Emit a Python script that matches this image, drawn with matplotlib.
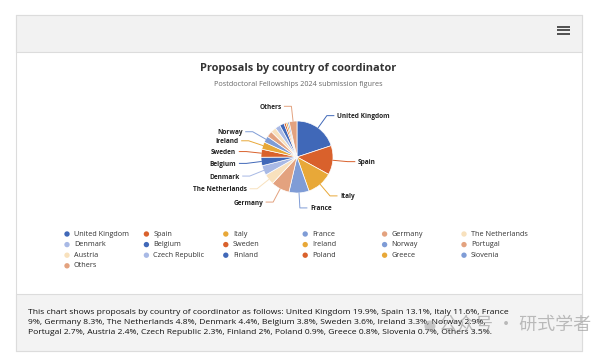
import numpy as np
import matplotlib
matplotlib.use("Agg")
from matplotlib import pyplot as plt
from matplotlib.patches import Rectangle, Circle

countries = ["United Kingdom", "Spain", "Italy", "France", "Germany", "The Netherlands",
             "Denmark", "Belgium", "Sweden", "Ireland", "Norway", "Portugal", "Austria",
             "Czech Republic", "Finland", "Poland", "Greece", "Slovenia", "Others"]
shares = [19.9, 13.1, 11.6, 9, 8.3, 4.8, 4.4, 3.8, 3.6, 3.3, 2.9, 2.7, 2.4, 2.3, 2, 0.9, 0.8, 0.7, 3.5]
share_text = ["19.9%", "13.1%", "11.6%", "9%", "8.3%", "4.8%", "4.4%", "3.8%", "3.6%", "3.3%",
              "2.9%", "2.7%", "2.4%", "2.3%", "2%", "0.9%", "0.8%", "0.7%", "3.5%"]
title = "Proposals by country of coordinator"
subtitle = "Postdoctoral Fellowships 2024 submission figures"

palette = ["#4068b8", "#d9612c", "#e8a838", "#7f9cd6", "#e3a27f", "#f8e1bd", "#a8b9e5"]
colors = [palette[i % len(palette)] for i in range(len(countries))]

plt.rcParams["font.family"] = ["Open Sans", "DejaVu Sans"]

fig = plt.figure(figsize=(6, 3.55), dpi=100)
ax = fig.add_axes([0, 0, 1, 1])

# card, header and footer
ax.add_patch(Rectangle((16, 15), 566, 336, facecolor="white", edgecolor="#dcdcdc", lw=0.8, zorder=0))
ax.add_patch(Rectangle((16, 15), 566, 37, facecolor="#f2f2f2", edgecolor="#dcdcdc", lw=0.8, zorder=1))
ax.add_patch(Rectangle((16, 294), 566, 57, facecolor="#f3f3f3", edgecolor="#dcdcdc", lw=0.8, zorder=1))
for yy in [26.5, 30, 33.5]:
    ax.plot([557, 570], [yy, yy], color="#444444", lw=1.3, solid_capstyle="butt", zorder=2)

# pie
cx, cy, r = 297, 157, 36
wedges, _ = ax.pie(shares, colors=colors, startangle=270, counterclock=True,
                   center=(cx, cy), radius=r,
                   wedgeprops=dict(edgecolor="white", linewidth=0.5))

ax.text(298, 68, title, ha="center", va="center", fontsize=7.9, fontweight="bold", color="#333333")
ax.text(298, 84, subtitle, ha="center", va="center", fontsize=5.2, color="#666666")

# data labels with connectors
start = 270.0
total = sum(shares)
for name, val, col in zip(countries, shares, colors):
    span = val / total * 360
    mid = np.deg2rad(start + span / 2)
    start += span
    if val < 2.8:
        continue
    dx, dy = np.cos(mid), np.sin(mid)
    x0, y0 = cx + r * dx, cy + r * dy
    x1, y1 = cx + (r + 15) * dx, cy + (r + 15) * dy
    side = 1 if dx >= 0 else -1
    x2 = x1 + side * 7
    ax.plot([x0, x1, x2], [y0, y1, y1], color=col, lw=0.7, zorder=3)
    ax.text(x2 + side * 3, y1 + 1, name, ha="left" if side > 0 else "right", va="center",
            fontsize=4.7, fontweight="bold", color="#222222", zorder=4)

# legend, filled row by row
for i, (name, col) in enumerate(zip(countries, colors)):
    lx = 67 + (i % 6) * 79.4
    ly = 234 + (i // 6) * 10.6
    ax.scatter([lx], [ly], s=15, color=col, edgecolors="none", zorder=3)
    ax.text(lx + 7, ly, name, ha="left", va="center", fontsize=5.2, color="#333333")

# description in footer
parts = [f"{n} {t}" for n, t in zip(countries, share_text)]
desc_lines = [
    "This chart shows proposals by country of coordinator as follows: " + ", ".join(parts[:3]) + ", France",
    parts[3].split(" ", 1)[1] + ", " + ", ".join(parts[4:11]) + ",",
    ", ".join(parts[11:]) + ".",
]
for k, line in enumerate(desc_lines):
    ax.text(28, 312 + k * 10, line, ha="left", va="center", fontsize=6.1, color="#111111")

# watermark
ax.add_patch(Circle((430, 326), 5.5, facecolor="#9a9a9a", alpha=0.5, edgecolor="none", zorder=5))
ax.text(439, 325, "公众号 · 研式学者", ha="left", va="center", fontsize=13,
        color="#9a9a9a", alpha=0.65, family=["Noto Sans CJK SC", "DejaVu Sans"], zorder=5)

ax.set_xlim(0, 600)
ax.set_ylim(355, 0)
ax.set_aspect("auto")
ax.axis("off")

fig.savefig("out.png", dpi=100)
